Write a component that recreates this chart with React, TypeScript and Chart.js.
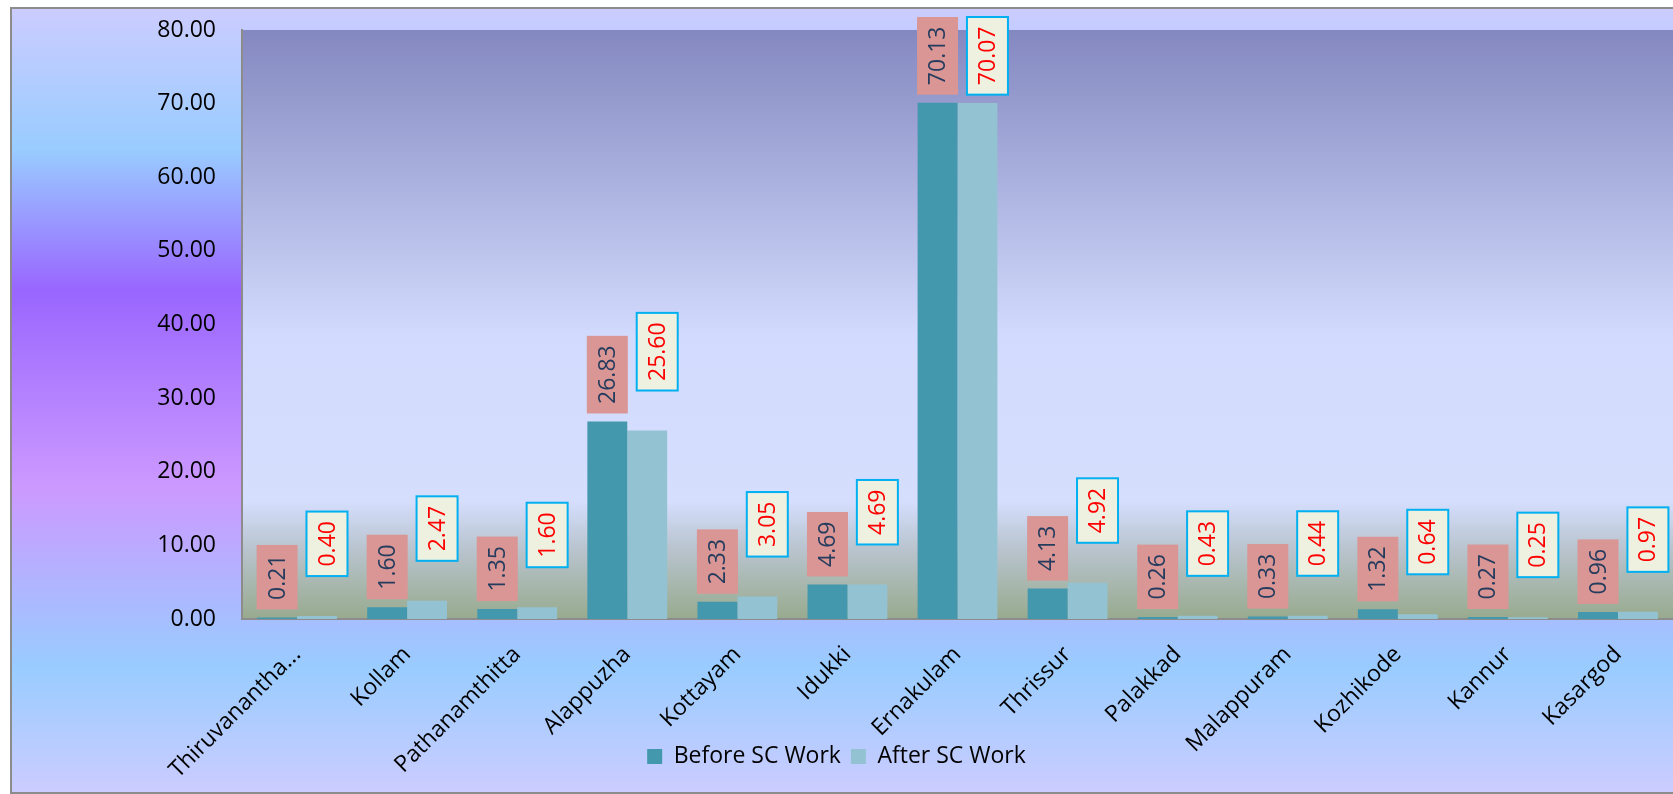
import React, { useEffect, useRef } from 'react';
import { Chart, registerables } from 'chart.js';

Chart.register(...registerables);

const categories = [
  'Thiruvanantha...',
  'Kollam',
  'Pathanamthitta',
  'Alappuzha',
  'Kottayam',
  'Idukki',
  'Ernakulam',
  'Thrissur',
  'Palakkad',
  'Malappuram',
  'Kozhikode',
  'Kannur',
  'Kasargod',
];
const beforeSC = [0.21, 1.6, 1.35, 26.83, 2.33, 4.69, 70.13, 4.13, 0.26, 0.33, 1.32, 0.27, 0.96];
const afterSC = [0.4, 2.47, 1.6, 25.6, 3.05, 4.69, 70.07, 4.92, 0.43, 0.44, 0.64, 0.25, 0.97];
const seriesNames = ['Before SC Work', 'After SC Work'];
const yMin = 0;
const yMax = 80;
const yStep = 10;

const FONT = '"Open Sans", "Noto Sans", sans-serif';
const W = 1673;
const H = 794;

const backgroundPlugin = {
  id: 'bgPlugin',
  afterLayout(chart: any) {
    // let the rotated category labels run below the axis box (as in the reference)
    const xs = chart.scales.x;
    if (xs) xs.bottom = H;
  },
  beforeDraw(chart: any) {
    const { ctx, chartArea } = chart;
    ctx.save();
    ctx.fillStyle = '#ffffff';
    ctx.fillRect(0, 0, W, H);
    const oTop = 8;
    const oBottom = 793;
    const g = ctx.createLinearGradient(0, oTop, 0, oBottom);
    g.addColorStop(0, '#ccccff');
    g.addColorStop(0.18, '#99ccff');
    g.addColorStop(0.36, '#9966ff');
    g.addColorStop(0.61, '#cc99ff');
    g.addColorStop(0.84, '#99ccff');
    g.addColorStop(1, '#ccccff');
    ctx.fillStyle = g;
    ctx.fillRect(11, oTop, W - 11, oBottom - oTop);
    ctx.strokeStyle = '#8c8c8c';
    ctx.lineWidth = 2;
    ctx.beginPath();
    ctx.moveTo(W + 2, 8);
    ctx.lineTo(11, 8);
    ctx.lineTo(11, 793);
    ctx.lineTo(W + 2, 793);
    ctx.stroke();
    const { left, top, right, bottom } = chartArea;
    const pg = ctx.createLinearGradient(0, top, 0, bottom);
    pg.addColorStop(0, '#8488c0');
    pg.addColorStop(0.52, '#d2dbfd');
    pg.addColorStop(0.8, '#d5defd');
    pg.addColorStop(0.88, '#b9c4cf');
    pg.addColorStop(1, '#98aa8e');
    ctx.fillStyle = pg;
    ctx.fillRect(left, top, right - left, bottom - top);
    ctx.restore();
  },
};

const labelPlugin = {
  id: 'labelPlugin',
  afterDatasetsDraw(chart: any) {
    const { ctx } = chart;
    ctx.save();
    ctx.font = `23px ${FONT}`;
    chart.data.datasets.forEach((ds: any, di: number) => {
      const meta = chart.getDatasetMeta(di);
      meta.data.forEach((bar: any, i: number) => {
        const v = ds.data[i] as number;
        const text = v.toFixed(2);
        const tw = ctx.measureText(text).width;
        const bw = 41;
        const bh = tw + 19;
        const gap = di === 0 ? 8 : 40;
        let bottom = bar.y - gap;
        let top = bottom - bh;
        if (top < 17) {
          top = 17;
          bottom = top + bh;
        }
        const cx = bar.x + (di === 0 ? 0 : 10);
        if (di === 0) {
          ctx.fillStyle = '#d99694';
          ctx.fillRect(cx - bw / 2, top, bw, bh);
        } else {
          ctx.fillStyle = '#eef1e0';
          ctx.fillRect(cx - bw / 2, top, bw, bh);
          ctx.strokeStyle = '#00b0f0';
          ctx.lineWidth = 2;
          ctx.strokeRect(cx - bw / 2, top, bw, bh);
        }
        ctx.save();
        ctx.translate(cx, (top + bottom) / 2);
        ctx.rotate(-Math.PI / 2);
        ctx.textAlign = 'center';
        ctx.textBaseline = 'middle';
        ctx.fillStyle = di === 0 ? '#263c5e' : '#ff0000';
        ctx.fillText(text, 0, 1);
        ctx.restore();
      });
    });
    ctx.restore();
  },
};

export default function App() {
  const ref = useRef<HTMLCanvasElement | null>(null);

  useEffect(() => {
    if (!ref.current) return;
    const chart = new Chart(ref.current, {
      type: 'bar',
      data: {
        labels: categories,
        datasets: [
          {
            label: seriesNames[0],
            data: beforeSC,
            backgroundColor: '#4398ae',
            borderWidth: 0,
            categoryPercentage: 0.725,
            barPercentage: 1.0,
          },
          {
            label: seriesNames[1],
            data: afterSC,
            backgroundColor: '#93c3d3',
            borderWidth: 0,
            categoryPercentage: 0.725,
            barPercentage: 1.0,
          },
        ],
      },
      options: {
        responsive: false,
        animation: false,
        layout: { padding: { top: 30, left: 0, right: 0, bottom: 16 } },
        plugins: {
          legend: {
            position: 'bottom',
            labels: {
              font: { family: FONT, size: 23 },
              color: '#000000',
              boxWidth: 15,
              boxHeight: 15,
              padding: 10,
            },
          },
          tooltip: { enabled: false },
        },
        scales: {
          x: {
            grid: { display: false, drawTicks: false },
            border: { color: '#8c8c8c', width: 2 },
            ticks: {
              font: { family: FONT, size: 23 },
              color: '#000000',
              minRotation: 45,
              maxRotation: 45,
              autoSkip: false,
              padding: 22,
            },
            afterFit(scale: any) {
              scale.height = 116;
              scale.paddingLeft = 0;
              scale.paddingRight = 0;
            },
          },
          y: {
            min: yMin,
            max: yMax,
            grid: { display: false, drawTicks: false },
            border: { color: '#8c8c8c', width: 2 },
            ticks: {
              stepSize: yStep,
              font: { family: FONT, size: 23 },
              color: '#000000',
              padding: 26,
              callback: (v: any) => Number(v).toFixed(2),
            },
            afterFit(scale: any) {
              scale.width = 242;
              scale.paddingTop = 0;
              scale.paddingBottom = 0;
            },
          },
        },
      },
      plugins: [backgroundPlugin, labelPlugin],
    });
    return () => chart.destroy();
  }, []);

  return (
    <div style={{ position: 'fixed', left: 0, top: 0, width: W, height: H }}>
      <canvas ref={ref} width={W} height={H} style={{ display: 'block', width: W, height: H }} />
    </div>
  );
}
